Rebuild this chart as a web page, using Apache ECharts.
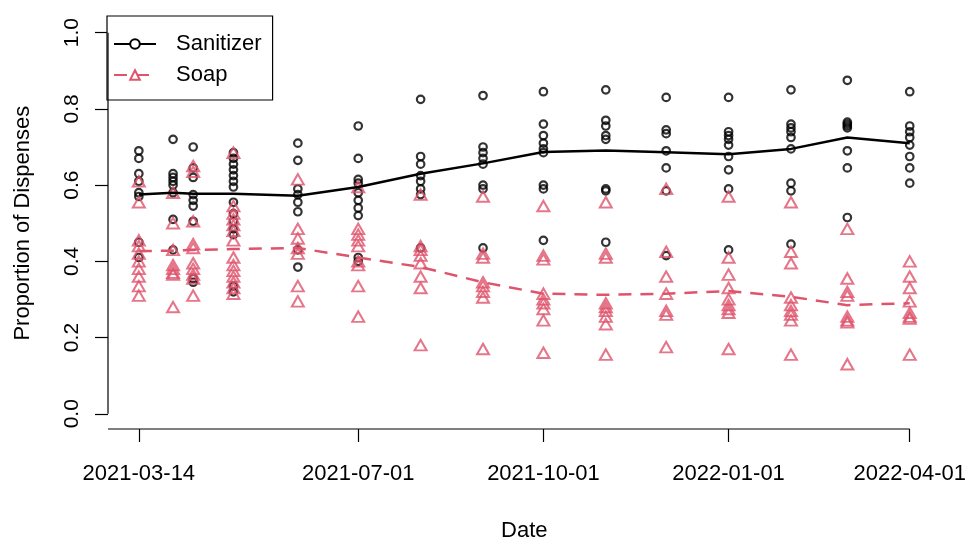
<!DOCTYPE html>
<html>
<head>
<meta charset="utf-8">
<script src="https://cdn.jsdelivr.net/npm/echarts@6/dist/echarts.min.js"></script>
<style>
html,body{margin:0;padding:0;background:#fff;}
#chart{width:969px;height:547px;}
</style>
</head>
<body>
<div id="chart"></div>
<script>
// ---- data ----
const dates = ['2021-03-14','2021-03-31','2021-04-10','2021-04-30','2021-06-01','2021-07-01','2021-08-01',
  '2021-09-01','2021-10-01','2021-11-01','2021-12-01','2022-01-01','2022-02-01','2022-03-01','2022-04-01'];

const sanitizerValues = [
  [0.69, 0.67, 0.63, 0.61, 0.58, 0.57, 0.45, 0.41],
  [0.72, 0.63, 0.62, 0.61, 0.60, 0.58, 0.51, 0.43],
  [0.70, 0.645, 0.62, 0.575, 0.56, 0.545, 0.505, 0.355, 0.345],
  [0.685, 0.67, 0.655, 0.64, 0.625, 0.61, 0.595, 0.555, 0.525, 0.505, 0.485, 0.47, 0.335, 0.32],
  [0.71, 0.665, 0.59, 0.575, 0.555, 0.53, 0.43, 0.385],
  [0.755, 0.67, 0.615, 0.605, 0.58, 0.56, 0.54, 0.52, 0.41, 0.40],
  [0.825, 0.675, 0.655, 0.625, 0.61, 0.59, 0.575, 0.435],
  [0.835, 0.70, 0.685, 0.67, 0.655, 0.60, 0.59, 0.435],
  [0.845, 0.76, 0.73, 0.71, 0.695, 0.685, 0.60, 0.59, 0.455],
  [0.85, 0.77, 0.755, 0.73, 0.72, 0.59, 0.585, 0.45],
  [0.83, 0.745, 0.735, 0.69, 0.645, 0.585, 0.415],
  [0.83, 0.74, 0.73, 0.72, 0.705, 0.675, 0.64, 0.59, 0.43],
  [0.85, 0.76, 0.75, 0.74, 0.725, 0.695, 0.605, 0.585, 0.445],
  [0.875, 0.765, 0.76, 0.755, 0.75, 0.69, 0.645, 0.515],
  [0.845, 0.755, 0.74, 0.725, 0.705, 0.675, 0.645, 0.605]
];

const soapValues = [
  [0.61, 0.555, 0.455, 0.44, 0.42, 0.40, 0.38, 0.36, 0.335, 0.31],
  [0.58, 0.50, 0.43, 0.39, 0.38, 0.37, 0.365, 0.28],
  [0.65, 0.635, 0.505, 0.445, 0.435, 0.395, 0.38, 0.365, 0.355, 0.31],
  [0.685, 0.545, 0.525, 0.51, 0.495, 0.48, 0.455, 0.41, 0.39, 0.375, 0.36, 0.345, 0.33, 0.315],
  [0.615, 0.485, 0.46, 0.435, 0.42, 0.335, 0.295],
  [0.595, 0.485, 0.47, 0.455, 0.44, 0.40, 0.39, 0.335, 0.255],
  [0.575, 0.44, 0.43, 0.415, 0.395, 0.36, 0.33, 0.18],
  [0.57, 0.42, 0.41, 0.345, 0.335, 0.32, 0.305, 0.17],
  [0.545, 0.415, 0.405, 0.315, 0.30, 0.29, 0.275, 0.245, 0.16],
  [0.555, 0.42, 0.41, 0.29, 0.28, 0.27, 0.255, 0.235, 0.155],
  [0.59, 0.425, 0.36, 0.315, 0.27, 0.26, 0.175],
  [0.57, 0.41, 0.365, 0.33, 0.30, 0.285, 0.275, 0.265, 0.17],
  [0.555, 0.425, 0.395, 0.305, 0.285, 0.27, 0.26, 0.245, 0.155],
  [0.485, 0.355, 0.32, 0.31, 0.255, 0.245, 0.24, 0.13],
  [0.40, 0.36, 0.33, 0.295, 0.265, 0.255, 0.25, 0.155]
];

const sanitizerFit = [0.575, 0.58, 0.577, 0.577, 0.572, 0.595, 0.63, 0.657, 0.687, 0.691, 0.686, 0.681, 0.695, 0.725, 0.71];
const soapFit      = [0.427, 0.428, 0.43, 0.432, 0.435, 0.41, 0.385, 0.345, 0.315, 0.312, 0.315, 0.322, 0.307, 0.285, 0.29];

const xTickDates = ['2021-03-14','2021-07-01','2021-10-01','2022-01-01','2022-04-01'];
const yTicks = [0, 0.2, 0.4, 0.6, 0.8, 1.0];

// ---- build ----
const t = d => Date.parse(d + 'T00:00:00Z');
const xTicks = xTickDates.map(t);
const span = xTicks[xTicks.length - 1] - xTicks[0];
const xMin = xTicks[0] - 0.04 * span;
const xMax = xTicks[xTicks.length - 1] + 0.04 * span;
const yMin = -0.04, yMax = 1.04;

const pts = arr => {
  const out = [];
  arr.forEach((vals, i) => vals.forEach(v => out.push([t(dates[i]), v])));
  return out;
};
const fit = arr => arr.map((v, i) => [t(dates[i]), v]);

const pad = n => (n < 10 ? '0' : '') + n;
const fmtDate = v => {
  const d = new Date(v);
  return d.getUTCFullYear() + '-' + pad(d.getUTCMonth() + 1) + '-' + pad(d.getUTCDate());
};

const RED = '#DF536B';
const FONT = 'Liberation Sans, Arial, sans-serif';
const FS = 22;

const chart = echarts.init(document.getElementById('chart'), null, {renderer: 'canvas'});
chart.setOption({
  animation: false,
  backgroundColor: '#fff',
  grid: {left: 108, right: 25, top: 17.4, bottom: 108.4, containLabel: false},
  xAxis: {
    type: 'value', min: xMin, max: xMax, scale: true,
    name: 'Date', nameLocation: 'middle', nameGap: 91,
    nameTextStyle: {color: '#000', fontSize: FS, fontFamily: FONT},
    axisLine: {show: false, onZero: false},
    axisTick: {show: true, customValues: xTicks, length: 13, lineStyle: {color: '#000', width: 1.2}},
    axisLabel: {show: true, customValues: xTicks, formatter: v => fmtDate(v), margin: 34,
      color: '#000', fontSize: FS, fontFamily: FONT},
    splitLine: {show: false}
  },
  yAxis: {
    type: 'value', min: yMin, max: yMax,
    name: 'Proportion of Dispenses', nameLocation: 'middle', nameGap: 74, nameRotate: 90,
    nameTextStyle: {color: '#000', fontSize: FS, fontFamily: FONT},
    axisLine: {show: false, onZero: false},
    axisTick: {show: true, customValues: yTicks, length: 13, lineStyle: {color: '#000', width: 1.2}},
    axisLabel: {show: true, customValues: yTicks, rotate: 90, margin: 25, formatter: v => v.toFixed(1),
      color: '#000', fontSize: FS - 1, fontFamily: FONT},
    splitLine: {show: false}
  },
  legend: {
    data: ['Sanitizer', 'Soap'],
    orient: 'vertical', left: 107, top: 16,
    padding: [17, 11, 14, 6], itemGap: 9,
    itemWidth: 42, itemHeight: 12,
    backgroundColor: '#fff', borderColor: '#000', borderWidth: 1.2, borderRadius: 0,
    textStyle: {color: '#000', fontSize: FS, fontFamily: FONT, padding: [0, 0, 0, 15]},
    selectedMode: false
  },
  series: [
    {
      name: 'Sanitizer', type: 'line', data: fit(sanitizerFit), z: 4,
      symbol: 'emptyCircle', showSymbol: false, itemStyle: {color: '#000'},
      lineStyle: {color: '#000', width: 2.5}, silent: true
    },
    {
      name: 'Soap', type: 'line', data: fit(soapFit), z: 4,
      symbol: 'emptyTriangle', showSymbol: false, itemStyle: {color: RED},
      lineStyle: {color: RED, width: 2.5, type: [13, 9]}, silent: true
    },
    {
      name: 'Sanitizer points', type: 'scatter', data: pts(sanitizerValues), z: 2,
      symbol: 'circle', symbolSize: 7.5,
      itemStyle: {color: 'rgba(0,0,0,0)', borderColor: '#000', borderWidth: 2.2}, silent: true
    },
    {
      name: 'Soap points', type: 'scatter', data: pts(soapValues), z: 3,
      symbol: 'triangle', symbolSize: [12, 10.5],
      itemStyle: {color: 'rgba(0,0,0,0)', borderColor: RED, borderWidth: 2}, silent: true
    },
    {
      name: 'x axis line', type: 'line', data: [[xMin, yMin], [xTicks[xTicks.length - 1], yMin]],
      symbol: 'none', clip: false, z: 5, silent: true, lineStyle: {color: '#000', width: 1.2}
    },
    {
      name: 'y axis line', type: 'line', data: [[xMin, yTicks[0]], [xMin, yTicks[yTicks.length - 1]]],
      symbol: 'none', clip: false, z: 5, silent: true, lineStyle: {color: '#000', width: 1.2}
    }
  ]
});
</script>
</body>
</html>
